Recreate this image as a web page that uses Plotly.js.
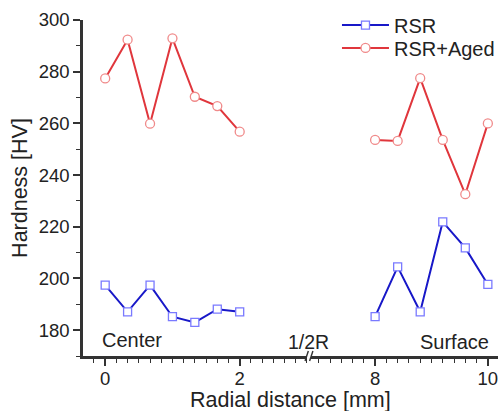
<!DOCTYPE html>
<html>
<head>
<meta charset="utf-8">
<script src="https://cdn.plot.ly/plotly-3.0.1.min.js"></script>
<style>html,body{margin:0;padding:0;background:#fff;}#chart{width:502px;height:411px;}</style>
</head>
<body>
<div id="chart"></div>
<script>
// Data
const centerX = [0, 0.333, 0.667, 1.0, 1.333, 1.667, 2.0];
const surfaceX = [8.0, 8.4, 8.8, 9.2, 9.6, 10.0];
const rsrCenter = [197.4, 187.1, 197.4, 185.2, 183.0, 188.1, 187.1];
const rsrSurface = [185.2, 204.5, 187.1, 221.9, 211.8, 197.7];
const agedCenter = [277.4, 292.4, 259.9, 292.9, 270.3, 266.7, 256.8];
const agedSurface = [253.6, 253.2, 277.5, 253.6, 232.6, 260.0];
const seriesNames = ['RSR', 'RSR+Aged'];
const regionLabels = ['Center', '1/2R', 'Surface'];
const leftTicks = [0, 2];
const rightTicks = [8, 10];
const xTitle = 'Radial distance [mm]';
const yTitle = 'Hardness [HV]';

const blue = '#1818c8', blueM = '#7a7aff';
const red = '#e0363c', redM = '#f08a8a';
const FONT = 'Liberation Sans, Arial, sans-serif';
const INK = '#333333';

const blueStyle = {color: blue, width: 2};
const redStyle = {color: red, width: 2};
const blueMarker = {symbol: 'square', size: 8, color: '#ffffff', line: {color: blueM, width: 1.3}};
const redMarker = {symbol: 'circle', size: 9, color: '#ffffff', line: {color: redM, width: 1.3}};

const traces = [
  {x: centerX, y: rsrCenter, xaxis: 'x', yaxis: 'y', mode: 'lines+markers', name: seriesNames[0], line: blueStyle, marker: blueMarker, legend: 'legend'},
  {x: centerX, y: agedCenter, xaxis: 'x', yaxis: 'y', mode: 'lines+markers', name: seriesNames[1], line: redStyle, marker: redMarker, legend: 'legend2'},
  {x: surfaceX, y: rsrSurface, xaxis: 'x2', yaxis: 'y', mode: 'lines+markers', name: seriesNames[0], line: blueStyle, marker: blueMarker, showlegend: false},
  {x: surfaceX, y: agedSurface, xaxis: 'x2', yaxis: 'y', mode: 'lines+markers', name: seriesNames[1], line: redStyle, marker: redMarker, showlegend: false}
];

const axCommon = {
  showline: true, linecolor: INK, linewidth: 2.5, showgrid: false, zeroline: false,
  ticks: 'outside', ticklen: 7, tickwidth: 1.5, tickcolor: INK,
  tickfont: {family: FONT, size: 18.5, color: '#222222'}
};
const minorStyle = {ticks: 'outside', ticklen: 4, tickwidth: 1.3, tickcolor: INK};

const ann = (text, x, y, size) => ({text: text, xref: 'paper', yref: 'paper', x: x, y: y, xanchor: 'center', yanchor: 'middle', showarrow: false, font: {family: FONT, size: size, color: '#222222'}});
const legendStyle = (y) => ({x: 0.612, y: y, xanchor: 'left', yanchor: 'top', bgcolor: 'rgba(0,0,0,0)',
  font: {family: FONT, size: 20, color: '#222222'}, itemwidth: 47});

const layout = {
  width: 502, height: 411,
  margin: {l: 83, r: 2, t: 20, b: 55},
  paper_bgcolor: '#ffffff', plot_bgcolor: '#ffffff',
  font: {family: FONT, color: '#222222'},
  showlegend: true,
  legend: legendStyle(1.043),
  legend2: legendStyle(0.975),
  xaxis: Object.assign({}, axCommon, {domain: [0, 0.5396], range: [-0.33, 3.0], tickvals: leftTicks, ticktext: leftTicks.map(String),
    minor: Object.assign({dtick: 1/6, tick0: 0}, minorStyle), anchor: 'y', ticklabelstandoff: -3}),
  xaxis2: Object.assign({}, axCommon, {domain: [0.549, 1], range: [6.86, 10.18], tickvals: rightTicks, ticktext: rightTicks.map(String),
    minor: Object.assign({dtick: 0.2, tick0: 8}, minorStyle), anchor: 'y', ticklabelstandoff: -3}),
  yaxis: Object.assign({}, axCommon, {range: [170, 300], dtick: 20, tick0: 180, anchor: 'x',
    minor: Object.assign({dtick: 10}, minorStyle),
    title: {text: yTitle, font: {family: FONT, size: 21.5, color: '#222222'}, standoff: 6}}),
  annotations: [
    ann(regionLabels[0], 0.1175, 0.048, 20),
    ann(regionLabels[1], 0.544, 0.042, 19.5),
    ann(regionLabels[2], 0.894, 0.042, 20),
    ann(xTitle, 0.5, -0.132, 21.5)
  ],
  shapes: [
    {type: 'line', xref: 'paper', yref: 'paper', x0: 0.535, x1: 0.543, y0: -0.015, y1: 0.015, line: {color: INK, width: 1.4}},
    {type: 'line', xref: 'paper', yref: 'paper', x0: 0.546, x1: 0.554, y0: -0.015, y1: 0.015, line: {color: INK, width: 1.4}}
  ]
};

Plotly.newPlot('chart', traces, layout, {displayModeBar: false});
</script>
</body>
</html>
